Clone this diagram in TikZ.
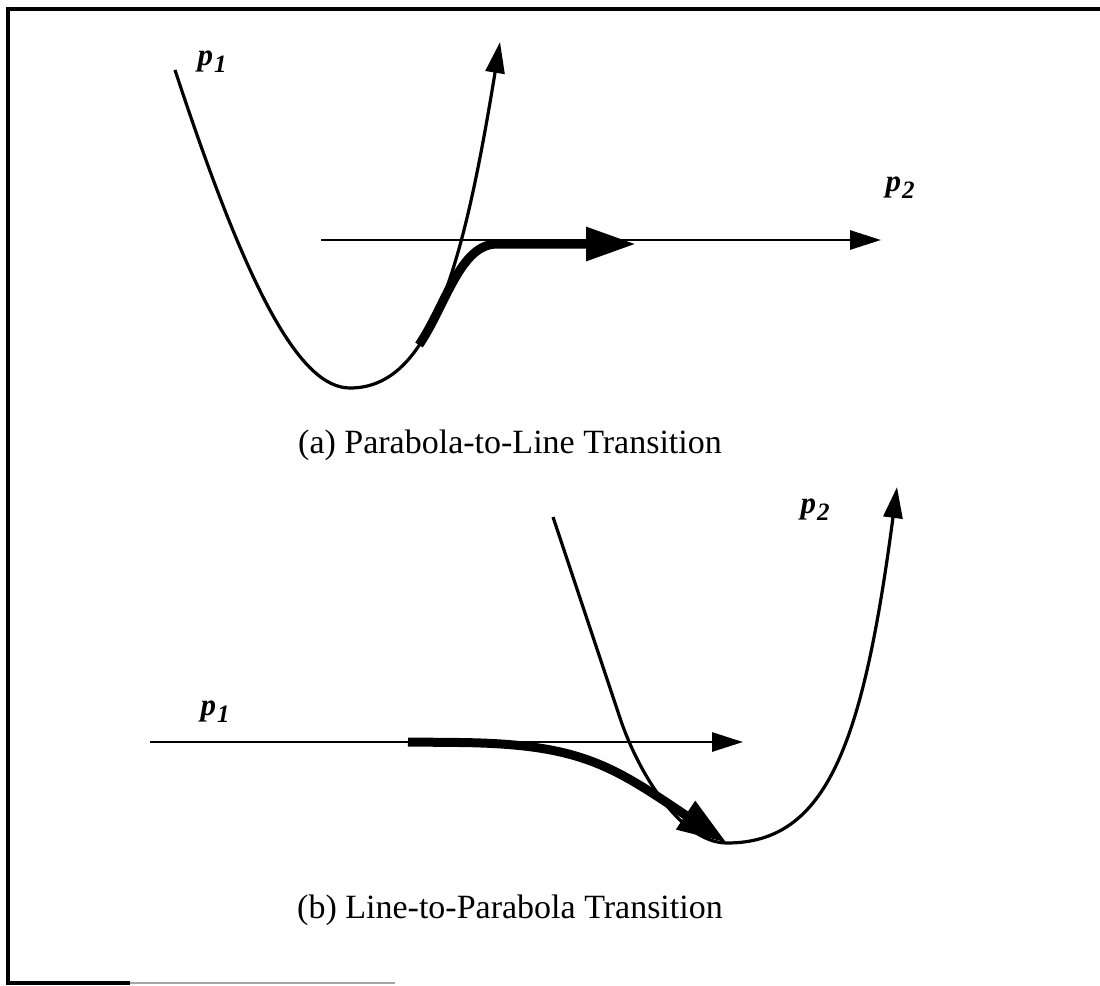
\documentclass[tikz,border=0pt]{standalone}
\usepackage{fontspec}
\setmainfont{Liberation Serif}
\usetikzlibrary{arrows.meta}
\tikzset{
  curveline/.style={line width=3.2pt, line join=round},
  thinline/.style={line width=2.8pt},
  thickpath/.style={line width=9pt, line cap=butt, line join=round},
  headthin/.style={-{Triangle[length=31pt,width=19pt]}},
  headthick/.style={-{Triangle[length=50pt,width=32pt]}},
  lbl/.style={font=\fontsize{31}{34}\selectfont\bfseries\itshape, inner sep=0pt},
  captext/.style={font=\fontsize{34}{40}\selectfont, inner sep=0pt},
  framestyle/.style={line width=4pt}
}
\newcommand{\plabel}[1]{p\kern1pt\raisebox{-7pt}{\fontsize{25}{25}\selectfont #1}}
\begin{document}
\begin{tikzpicture}[x=1pt,y=-1pt]
\useasboundingbox (0,0) rectangle (1100,985);
% frame
\draw[framestyle] (1100,9) -- (8,9) -- (8,983) -- (130,983);
\draw[line width=1.5pt, black!35] (130,983) -- (395,983);

% (a) parabola-to-line
\coordinate (pa-start) at (175,70);
\coordinate (pa-vertex) at (350,388);
\coordinate (pa-end) at (500,42);
\draw[thinline, headthin] (321,240) coordinate (a0) -- (881,240) coordinate (a1);
\draw[curveline, headthin] (pa-start) .. controls (248,292) and (300,388) .. (pa-vertex)
      .. controls (430,388) and (463,269) .. (pa-end);
\draw[thickpath, headthick] (419,345) .. controls (446,305) and (460,244) .. (497,244) -- (636,244);
\node[lbl] (pa1) at (212,62) {\plabel{1}};
\node[lbl] (pa2) at (900,188) {\plabel{2}};
\node[captext] (capa) at (510,445) {(a) Parabola-to-Line Transition};

% (b) line-to-parabola
\coordinate (pb-start) at (553,517);
\coordinate (pb-vertex) at (727,843);
\coordinate (pb-end) at (897,487);
\draw[thinline, headthin] (150,742) coordinate (b0) -- (743,742) coordinate (b1);
\draw[curveline, headthin] (pb-start) -- (620,718) .. controls (639,775) and (682,843) .. (pb-vertex)
      .. controls (827,843) and (863,744) .. (pb-end);
\draw[thickpath, headthick] (408,742) -- (460,742.5) .. controls (580,744) and (611,765) .. (pb-vertex);
\node[lbl] (pb1) at (215,712) {\plabel{1}};
\node[lbl] (pb2) at (815,510) {\plabel{2}};
\node[captext] (capb) at (510,910) {(b) Line-to-Parabola Transition};
\end{tikzpicture}
\end{document}
